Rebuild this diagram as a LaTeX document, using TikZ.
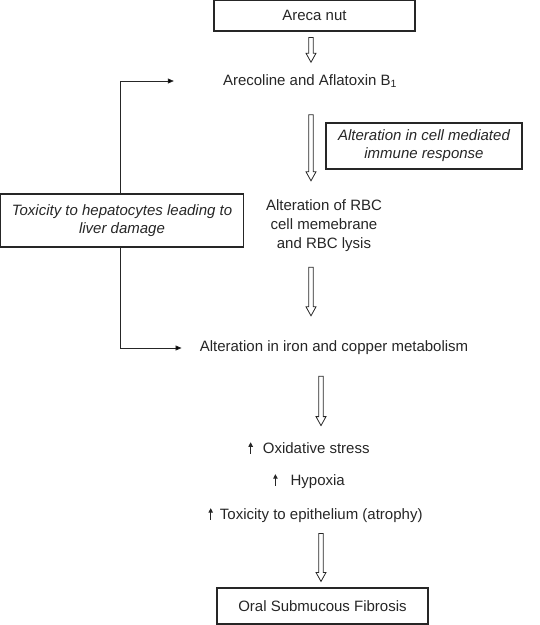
\documentclass[tikz,border=0pt]{standalone}
\usepackage{fontspec}
\setmainfont{Liberation Sans}
\usetikzlibrary{arrows.meta,calc}

\colorlet{ink}{black!85}
\newcommand\uparr{\tikz[baseline=0pt]\draw[ink, line width=0.9pt, -{Triangle[length=4.5pt,width=4.5pt]}] (0,-0.5pt) -- (0,11pt);}
\tikzset{
  box/.style={draw=ink, line width=1.1pt, inner sep=0pt, text=ink, align=center},
  txt/.style={inner sep=0pt, text=ink, align=center},
  hollow/.style={draw=ink, line width=0.8pt, to path={let \p1=(\tikztostart), \p2=(\tikztotarget) in
    (\x1-2.2pt,\y1) -- (\x1+2.2pt,\y1) -- (\x1+2.2pt,\y2+9pt) -- (\x1+5pt,\y2+9pt) -- (\x1,\y2)
    -- (\x1-5pt,\y2+9pt) -- (\x1-2.2pt,\y2+9pt) -- cycle}},
  fb/.style={draw=ink, line width=0.8pt, -{Triangle[length=6pt,width=5pt]}}
}

\begin{document}
\begin{tikzpicture}[x=1pt,y=-1pt,font=\fontsize{15}{19}\selectfont]
\useasboundingbox (0,0) rectangle (540,625);
% main chain
\node[box, minimum width=201, minimum height=31] (areca) at (314.5,15.5) {Areca nut};
\node[txt] (arec) at (310,81) {Arecoline and Aflatoxin B\textsubscript{1}};
\node[box, minimum width=196, minimum height=46, font=\fontsize{15}{18}\selectfont\itshape] (cmi) at (424,146) {Alteration in cell mediated\\immune response};
\node[txt] (rbc) at (324,226) {Alteration of RBC\\cell memebrane\\and RBC lysis};
\node[txt] (iron) at (334,348) {Alteration in iron and copper metabolism};
\node[txt] (ox) at (309,448) {\uparr\hspace{10pt}Oxidative stress};
\node[txt] (hyp) at (309,481) {\uparr\hspace{13pt}Hypoxia};
\node[txt] (epi) at (315.5,515) {\uparr\hspace{7pt}Toxicity to epithelium (atrophy)};
\node[box, minimum width=211, minimum height=36] (osf) at (322.5,606) {Oral Submucous Fibrosis};
% side box
\node[box, minimum width=243, minimum height=53, font=\fontsize{15}{18}\selectfont\itshape] (hep) at (122,220.5) {Toxicity to hepatocytes leading to\\liver damage};

% hollow arrows
\draw[hollow] ([xshift=-3.5,yshift=-6]areca.south) to ([yshift=12]arec.north);
\draw[hollow] ([xshift=1,yshift=-27]arec.south) to ([yshift=19]rbc.north);
\draw[hollow] ([xshift=-13,yshift=-15]rbc.south) to ([yshift=25]iron.north);
\draw[hollow] ([xshift=-13,yshift=-21]iron.south) to ([yshift=16]ox.north);
\draw[hollow] ([xshift=5.5,yshift=-11]epi.south) to ([yshift=6]osf.north);

% feedback from the liver
\draw[fb] ([xshift=-2]hep.north) |- ([xshift=-49]arec.west);
\draw[fb] ([xshift=-2]hep.south) |- ([xshift=-18]iron.west);
\end{tikzpicture}
\end{document}
